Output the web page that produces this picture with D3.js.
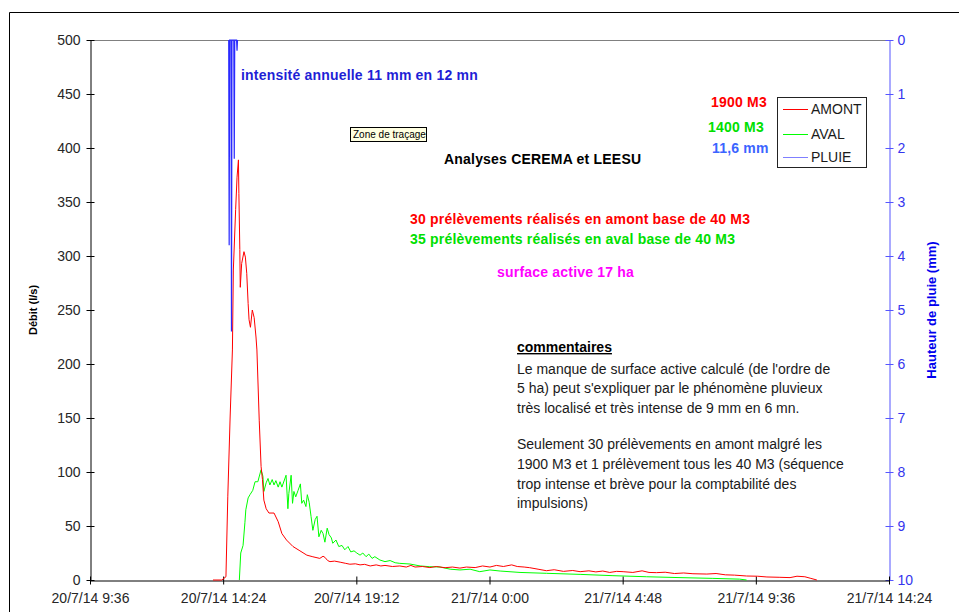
<!DOCTYPE html>
<html>
<head>
<meta charset="utf-8">
<script src="https://cdn.jsdelivr.net/npm/d3@7"></script>
<style>
  html, body { margin: 0; padding: 0; background: #fff; }
  svg { display: block; font-family: "Liberation Sans", Arial, sans-serif; }
</style>
</head>
<body>
<svg id="chart" width="959" height="612"></svg>
<script>
// Débit AMONT (l/s)
const amontTime = [
  "2014-07-20 14:02","2014-07-20 14:21","2014-07-20 14:30","2014-07-20 14:34","2014-07-20 14:39",
  "2014-07-20 14:44","2014-07-20 14:46","2014-07-20 14:51","2014-07-20 14:54","2014-07-20 14:57",
  "2014-07-20 14:58","2014-07-20 15:00","2014-07-20 15:01","2014-07-20 15:04","2014-07-20 15:09",
  "2014-07-20 15:12","2014-07-20 15:15","2014-07-20 15:18","2014-07-20 15:20","2014-07-20 15:23",
  "2014-07-20 15:27","2014-07-20 15:31","2014-07-20 15:35","2014-07-20 15:37","2014-07-20 15:42",
  "2014-07-20 15:46","2014-07-20 15:49","2014-07-20 15:52","2014-07-20 15:57","2014-07-20 16:03",
  "2014-07-20 16:14","2014-07-20 16:23","2014-07-20 16:31","2014-07-20 16:41","2014-07-20 16:55",
  "2014-07-20 17:10","2014-07-20 17:25","2014-07-20 17:38","2014-07-20 17:53","2014-07-20 18:00",
  "2014-07-20 18:04","2014-07-20 18:10","2014-07-20 18:15","2014-07-20 18:25","2014-07-20 18:37",
  "2014-07-20 18:48","2014-07-20 18:58","2014-07-20 19:10","2014-07-20 19:20","2014-07-20 19:30",
  "2014-07-20 19:42","2014-07-20 19:55","2014-07-20 20:05","2014-07-20 20:14","2014-07-20 20:30",
  "2014-07-20 20:46","2014-07-20 21:00","2014-07-20 21:10","2014-07-20 21:19","2014-07-20 21:35",
  "2014-07-20 21:51","2014-07-20 22:05","2014-07-20 22:24","2014-07-20 22:40","2014-07-20 22:56",
  "2014-07-20 23:10","2014-07-20 23:29","2014-07-20 23:45","2014-07-21 00:01","2014-07-21 00:15",
  "2014-07-21 00:30","2014-07-21 00:48","2014-07-21 01:00","2014-07-21 01:15","2014-07-21 01:27",
  "2014-07-21 01:45","2014-07-21 02:03","2014-07-21 02:20","2014-07-21 02:40","2014-07-21 03:00",
  "2014-07-21 03:16","2014-07-21 03:35","2014-07-21 03:50","2014-07-21 04:05","2014-07-21 04:20",
  "2014-07-21 04:35","2014-07-21 04:49","2014-07-21 05:10","2014-07-21 05:30","2014-07-21 05:45",
  "2014-07-21 06:01","2014-07-21 06:20","2014-07-21 06:40","2014-07-21 07:00","2014-07-21 07:20",
  "2014-07-21 07:50","2014-07-21 08:10","2014-07-21 08:30","2014-07-21 08:50","2014-07-21 09:16",
  "2014-07-21 09:40","2014-07-21 10:00","2014-07-21 10:28","2014-07-21 10:50","2014-07-21 11:05",
  "2014-07-21 11:22","2014-07-21 11:35","2014-07-21 11:48"
];
const amontQ = [
  0, 0, 3, 77, 150,
  213, 287, 343, 373, 389,
  358, 306, 271, 293, 304,
  299, 284, 256, 241, 234,
  250, 243, 225, 213, 148,
  105, 93, 74, 66, 62,
  62, 54, 43, 37, 31,
  27, 23, 21.5, 20, 22,
  21, 18, 17, 17.5, 16.5,
  15.5, 14.6, 15, 14, 14.5,
  13, 14, 13, 13.5, 12.5,
  13, 12, 13.5, 12, 12.5,
  11.5, 12.5, 11.4, 12, 11,
  12, 11.5, 13, 12, 13.5,
  12.5, 14, 12.5, 12, 11.4,
  10, 8.6, 9.5, 8, 8.8,
  7.7, 8.5, 7.5, 8.3, 7,
  8, 7.7, 7, 8.5, 7,
  6.8, 7.2, 6, 6.5, 5.8,
  5.5, 6, 4.8, 4.5, 3.7,
  3.5, 2.8, 2.5, 2.2, 3.5,
  3, 1.5, 0
];

// Débit AVAL (l/s)
const avalTime = [
  "2014-07-20 14:59","2014-07-20 15:02","2014-07-20 15:07","2014-07-20 15:11","2014-07-20 15:13",
  "2014-07-20 15:18","2014-07-20 15:22","2014-07-20 15:28","2014-07-20 15:33","2014-07-20 15:39",
  "2014-07-20 15:44","2014-07-20 15:46","2014-07-20 15:50","2014-07-20 15:52","2014-07-20 15:57",
  "2014-07-20 16:01","2014-07-20 16:05","2014-07-20 16:10","2014-07-20 16:14","2014-07-20 16:18",
  "2014-07-20 16:23","2014-07-20 16:27","2014-07-20 16:31","2014-07-20 16:40","2014-07-20 16:44",
  "2014-07-20 16:46","2014-07-20 16:51","2014-07-20 16:54","2014-07-20 16:57","2014-07-20 17:01",
  "2014-07-20 17:06","2014-07-20 17:11","2014-07-20 17:14","2014-07-20 17:18","2014-07-20 17:23",
  "2014-07-20 17:26","2014-07-20 17:30","2014-07-20 17:34","2014-07-20 17:38","2014-07-20 17:43",
  "2014-07-20 17:47","2014-07-20 17:51","2014-07-20 17:56","2014-07-20 18:00","2014-07-20 18:04",
  "2014-07-20 18:09","2014-07-20 18:13","2014-07-20 18:18","2014-07-20 18:21","2014-07-20 18:28",
  "2014-07-20 18:34","2014-07-20 18:41","2014-07-20 18:47","2014-07-20 18:54","2014-07-20 19:00",
  "2014-07-20 19:07","2014-07-20 19:13","2014-07-20 19:20","2014-07-20 19:26","2014-07-20 19:33",
  "2014-07-20 19:39","2014-07-20 19:46","2014-07-20 19:52","2014-07-20 20:03","2014-07-20 20:14",
  "2014-07-20 20:25","2014-07-20 20:36","2014-07-20 20:46","2014-07-20 21:08","2014-07-20 21:30",
  "2014-07-20 21:51","2014-07-20 22:13","2014-07-20 22:35","2014-07-20 22:56","2014-07-20 23:18",
  "2014-07-20 23:39","2014-07-21 00:01","2014-07-21 00:23","2014-07-21 01:06","2014-07-21 02:03",
  "2014-07-21 03:16","2014-07-21 04:27","2014-07-21 05:40","2014-07-21 06:52","2014-07-21 08:03",
  "2014-07-21 09:01","2014-07-21 09:16"
];
const avalQ = [
  0, 25, 32, 53, 65,
  76, 79, 83, 91, 91,
  99, 102, 96, 82, 90,
  94, 88, 93, 88, 92,
  86, 91, 86, 97, 66,
  80, 97, 71, 82, 77,
  83, 89, 71, 74, 68,
  79, 72, 59, 46, 56,
  59, 40, 46, 43, 35,
  48, 42, 39, 34, 37,
  31, 32, 28, 31, 26,
  27, 25, 23, 25, 21.6,
  24, 20, 21.6, 18.5, 17,
  18, 16, 15.4, 14.8, 13,
  12.3, 12, 10, 9.3, 10,
  7.7, 9.3, 8.3, 7, 6.2,
  5.2, 4, 3, 2.2, 1.5,
  0.8, 0
];

// Hauteur de pluie (mm), pas d'une minute
const pluieTime = [
  "2014-07-20 14:36","2014-07-20 14:37","2014-07-20 14:38",
  "2014-07-20 14:41","2014-07-20 14:42","2014-07-20 14:43",
  "2014-07-20 14:47","2014-07-20 14:48","2014-07-20 14:49",
  "2014-07-20 14:53","2014-07-20 14:54","2014-07-20 14:55"
];
const pluieMm = [0, 3.8, 0, 0, 5.4, 0, 0, 2.2, 0, 0, 0.2, 0];

const xTickTime = [
  "2014-07-20 09:36","2014-07-20 14:24","2014-07-20 19:12","2014-07-21 00:00",
  "2014-07-21 04:48","2014-07-21 09:36","2014-07-21 14:24"
];
const debitTicks = [0, 50, 100, 150, 200, 250, 300, 350, 400, 450, 500];
const pluieTicks = [0, 1, 2, 3, 4, 5, 6, 7, 8, 9, 10];

const parse = d3.timeParse("%Y-%m-%d %H:%M");
const fmt = d3.timeFormat("%-d/%-m/%y %-H:%M");

const svg = d3.select("#chart");
const L = 90, R = 889, T = 40, B = 580;

const x = d3.scaleTime()
  .domain([parse(xTickTime[0]), parse(xTickTime[xTickTime.length - 1])])
  .range([L, R]);
const y = d3.scaleLinear().domain([0, 500]).range([B, T]);
const yP = d3.scaleLinear().domain([0, 10]).range([T, B]);

// cadre extérieur
svg.append("path").attr("d", "M9.5,612 V12.5 H959")
  .attr("fill", "none").attr("stroke", "#000").attr("stroke-width", 1);

// bord supérieur de la zone de traçage
svg.append("line").attr("x1", L).attr("x2", R).attr("y1", T + 0.5).attr("y2", T + 0.5)
  .attr("stroke", "#808080");

const tickColor = "#262626";

// axe gauche
const gL = svg.append("g").attr("transform", `translate(${L + 0.5},0)`)
  .call(d3.axisLeft(y).tickValues(debitTicks).tickSize(4).tickPadding(6).tickSizeOuter(0));
gL.selectAll(".tick line").attr("x2", 4).attr("x1", -4).attr("stroke", "#000");
gL.select(".domain").attr("stroke", "#000");
gL.selectAll(".tick text").attr("font-size", 14).attr("fill", tickColor)
  .attr("font-family", "Liberation Sans, Arial, sans-serif").attr("x", -10);

// axe droit (pluie, inversé)
const gR = svg.append("g").attr("transform", `translate(${R + 0.5},0)`)
  .call(d3.axisRight(yP).tickValues(pluieTicks).tickSize(4).tickPadding(6).tickSizeOuter(0));
gR.selectAll(".tick line").attr("x1", -4).attr("x2", 4).attr("stroke", "#5555ff");
gR.select(".domain").attr("stroke", "#5555ff");
gR.selectAll(".tick text").attr("font-size", 14).attr("fill", "#3535ee")
  .attr("font-family", "Liberation Sans, Arial, sans-serif").attr("x", 8);

// axe du temps
const gB = svg.append("g").attr("transform", `translate(0,${B + 0.5})`)
  .call(d3.axisBottom(x).tickValues(xTickTime.map(parse)).tickFormat(fmt)
    .tickSize(4).tickPadding(9).tickSizeOuter(0));
gB.selectAll(".tick line").attr("y1", -4).attr("y2", 4).attr("stroke", "#000");
gB.select(".domain").attr("stroke", "#000");
gB.selectAll(".tick text").attr("font-size", 14).attr("fill", tickColor)
  .attr("font-family", "Liberation Sans, Arial, sans-serif");

// titres d'axes
svg.append("text").attr("transform", "translate(37,310) rotate(-90)")
  .attr("text-anchor", "middle").attr("font-size", 11).attr("font-weight", "bold")
  .attr("font-family", "Liberation Sans Narrow, Arial Narrow, sans-serif")
  .attr("fill", "#000").text("Débit (l/s)");
svg.append("text").attr("transform", "translate(936,310) rotate(-90)")
  .attr("text-anchor", "middle").attr("font-size", 13).attr("font-weight", "bold")
  .attr("font-family", "Liberation Sans Narrow, Arial Narrow, sans-serif")
  .attr("fill", "#0000ee").text("Hauteur de pluie (mm)");

// séries
const amont = amontTime.map((t, i) => ({ t: parse(t), v: amontQ[i] }));
const aval = avalTime.map((t, i) => ({ t: parse(t), v: avalQ[i] }));
const pluie = pluieTime.map((t, i) => ({ t: parse(t), v: pluieMm[i] }));

const lineQ = d3.line().x(d => x(d.t)).y(d => y(d.v));
const lineP = d3.line().x(d => x(d.t)).y(d => yP(d.v));

svg.append("path").datum(aval).attr("d", lineQ)
  .attr("fill", "none").attr("stroke", "#00ff00").attr("stroke-width", 1);
svg.append("path").datum(amont).attr("d", lineQ)
  .attr("fill", "none").attr("stroke", "#ff0000").attr("stroke-width", 1);
svg.append("path").datum(pluie).attr("d", lineP)
  .attr("fill", "none").attr("stroke", "#2a2aff").attr("stroke-width", 1.2);

// annotations
function label(xp, yp, txt, color, opts = {}) {
  return svg.append("text").attr("x", xp).attr("y", yp)
    .attr("font-size", opts.size || 14)
    .attr("font-weight", opts.bold === false ? "normal" : "bold")
    .attr("letter-spacing", opts.ls !== undefined ? opts.ls : 0.2)
    .attr("fill", color).text(txt);
}
label(241, 80, "intensité annuelle 11 mm en 12 mn", "#1f1fd6");
label(711, 107, "1900 M3", "#ff0000");
label(708, 132, "1400 M3", "#00e000");
label(712, 153, "11,6 mm", "#3b64ff");
label(444, 164, "Analyses CEREMA et LEESU", "#000");
label(410, 224, "30 prélèvements réalisés en amont base de 40 M3", "#ff0000");
label(410, 244, "35 prélèvements réalisés en aval base de 40 M3", "#00e000");
label(497, 277, "surface active 17 ha", "#ff00ff");

// bulle "Zone de traçage"
svg.append("rect").attr("x", 350.5).attr("y", 127.5).attr("width", 76).attr("height", 14)
  .attr("fill", "#ffffe1").attr("stroke", "#000").attr("stroke-width", 1);
svg.append("text").attr("x", 353).attr("y", 138).attr("font-size", 10)
  .attr("fill", "#000").text("Zone de traçage");

// commentaires
label(517, 352, "commentaires", "#000", { ls: 0 }).attr("text-decoration", "underline");
const comments = [
  ["Le manque de surface active calculé (de l'ordre de", 374],
  ["5 ha) peut s'expliquer par le phénomène pluvieux", 393],
  ["très localisé et très intense de 9 mm en 6 mn.", 413],
  ["Seulement 30 prélèvements en amont malgré les", 449],
  ["1900 M3 et 1 prélèvement tous les 40 M3 (séquence", 469],
  ["trop intense et brève pour la comptabilité des", 489],
  ["impulsions)", 508]
];
comments.forEach(([t, yy]) => label(517, yy, t, "#1a1a1a", { bold: false, ls: 0 }));

// légende
const leg = svg.append("g");
leg.append("rect").attr("x", 777.5).attr("y", 97.5).attr("width", 89).attr("height", 70)
  .attr("fill", "#fff").attr("stroke", "#222").attr("stroke-width", 1);
[["AMONT", "#ff0000", 109], ["AVAL", "#00ff00", 134], ["PLUIE", "#7f7fff", 157]].forEach(([n, c, yy]) => {
  leg.append("line").attr("x1", 783).attr("x2", 808).attr("y1", yy + 0.5).attr("y2", yy + 0.5)
    .attr("stroke", c).attr("stroke-width", 1);
  leg.append("text").attr("x", 811).attr("y", yy + 4.5).attr("font-size", 14)
    .attr("fill", "#1a1a1a").text(n);
});
</script>
</body>
</html>
